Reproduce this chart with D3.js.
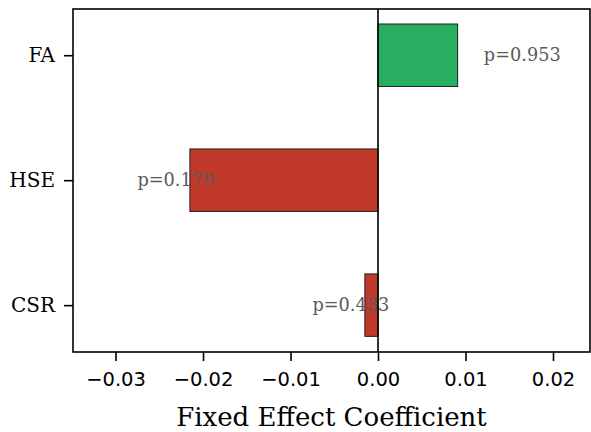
<!DOCTYPE html>
<html>
<head>
<meta charset="utf-8">
<script src="https://cdn.jsdelivr.net/npm/d3@7"></script>
<style>
  body { margin: 0; background: #fff; }
  .num text { font-family: "DejaVu Sans", sans-serif; }
</style>
</head>
<body>
<div id="chart"></div>
<script>
// data
var categories = ["CSR", "HSE", "FA"];
var coefficients = [-0.0015, -0.0215, 0.0091];
var pValues = ["0.433", "0.179", "0.953"];
var xTicks = [-0.03, -0.02, -0.01, 0.00, 0.01, 0.02];

var width = 591, height = 432;
var margin = {top: 9, right: 1, bottom: 80, left: 73};
var w = width - margin.left - margin.right;
var h = height - margin.top - margin.bottom;

var svg = d3.select("#chart").append("svg")
      .attr("width", width)
      .attr("height", height)
      .append("g")
      .attr("transform", "translate(" + margin.left + "," + margin.top + ")");

var x = d3.scaleLinear()
      .domain([-0.03486, 0.02423])
      .range([0, w]);

// category index scale, like matplotlib barh
var y = d3.scaleLinear()
      .domain([-0.375, 2.37])
      .range([h, 0]);

var barH = y(0) - y(0.5);

var rows = categories.map(function(c, i) {
      return {cat: c, value: coefficients[i], p: pValues[i], idx: i};
});

// bars
svg.append("g")
      .selectAll("rect")
      .data(rows)
      .enter()
      .append("rect")
      .attr("x", d => x(Math.min(0, d.value)))
      .attr("y", d => y(d.idx) - barH / 2)
      .attr("width", d => Math.abs(x(d.value) - x(0)))
      .attr("height", barH)
      .style("fill", d => d.value > 0 ? "#27ae60" : "#c0392b")
      .style("stroke", "#222")
      .style("stroke-width", 1);

// zero line
svg.append("line")
      .attr("x1", x(0)).attr("x2", x(0))
      .attr("y1", 0).attr("y2", h)
      .style("stroke", "#000")
      .style("stroke-width", 1.6);

// p-value labels
svg.append("g")
      .selectAll("text")
      .data(rows)
      .enter()
      .append("text")
      .attr("x", d => x(d.value > 0 ? d.value + 0.003 : d.value - 0.006))
      .attr("y", d => y(d.idx))
      .attr("dy", "0.35em")
      .style("font-family", "'DejaVu Serif', serif")
      .style("font-size", "17.7px")
      .style("fill", "#595959")
      .text(d => "p=" + d.p);

// x axis
var xAxis = svg.append("g")
      .attr("class", "num")
      .attr("transform", "translate(0," + h + ")")
      .call(d3.axisBottom(x)
      .tickValues(xTicks)
      .tickSize(9)
      .tickPadding(11)
      .tickFormat(function(d) { return d3.format(".2f")(d).replace("-", "\u2212"); }));

xAxis.selectAll("text").style("font-size", "19.5px").style("fill", "#000");

// y axis
var yAxis = svg.append("g")
      .call(d3.axisLeft(y)
      .tickValues([0, 1, 2])
      .tickSize(9)
      .tickPadding(9)
      .tickFormat(function(d) { return categories[d]; }));

yAxis.selectAll("text")
      .style("font-family", "'DejaVu Serif', serif")
      .style("font-size", "20px")
      .style("fill", "#000");

svg.selectAll(".domain").remove();
svg.selectAll(".tick line").style("stroke", "#000").style("stroke-width", 1.6);

// frame
svg.append("rect")
      .attr("x", 0).attr("y", 0)
      .attr("width", w).attr("height", h)
      .style("fill", "none")
      .style("stroke", "#000")
      .style("stroke-width", 1.6);

// x label
svg.append("text")
      .attr("x", (x(-0.03486) + x(0.02423)) / 2)
      .attr("y", h + 74)
      .attr("text-anchor", "middle")
      .style("font-family", "'DejaVu Serif', serif")
      .style("font-size", "26px")
      .style("fill", "#000")
      .text("Fixed Effect Coefficient");
</script>
</body>
</html>
